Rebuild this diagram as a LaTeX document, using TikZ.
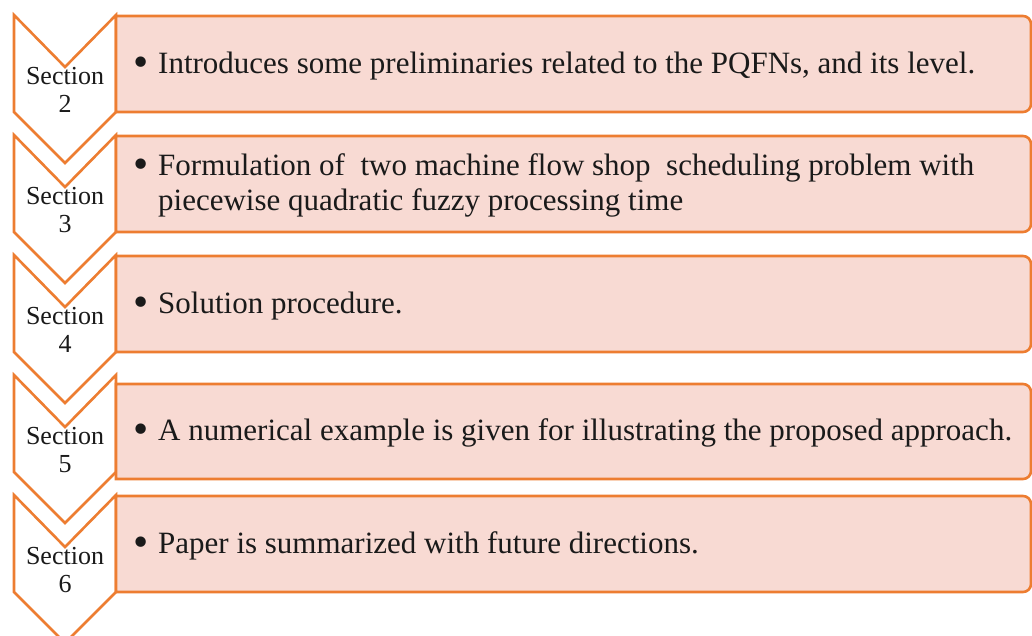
\documentclass[tikz,border=0pt]{standalone}
\usepackage{fontspec}
\setmainfont{Liberation Serif}

\definecolor{chevronline}{HTML}{ED7D31}
\definecolor{boxfill}{HTML}{F8DAD3}
\definecolor{inktext}{HTML}{1A1A1A}

\tikzset{
    sectionlabel/.style={align=center, text=inktext, font=\fontsize{26}{28}\selectfont, inner sep=0pt},
    sectiontext/.style={anchor=west, text=inktext, font=\fontsize{31}{35}\selectfont, inner sep=0pt},
    outline/.style={draw=chevronline, line width=2.6pt, line join=miter}
}

\newcommand{\bulletitem}[1]{\makebox[25pt][l]{\raisebox{-3pt}{\scalebox{1.4}{\textbullet}}}\parbox[t]{870pt}{\raggedright #1}}

\begin{document}
\begin{tikzpicture}[x=1pt, y=-1pt]

    \useasboundingbox (0,0) rectangle (1032,636);

    \foreach \n/\t/\bt/\bb in {2/15/16/112, 3/135/136/232, 4/255/256/352, 5/375/384/479, 6/495/496/592} {
        \draw [outline, fill=white] (14,\t) -- (65,\t+52) -- (116,\t) -- (116,\t+97)
            -- (65,\t+148) -- (14,\t+97) -- cycle;
        \draw [outline, fill=boxfill] (116,\bb) -- (116,\bt) [rounded corners=8pt]
            -- (1031,\bt) -- (1031,\bb) [sharp corners] -- cycle;
        \node [sectionlabel] (sec\n) at (65,\t+75) {Section\\\n};
    }

    \node [sectiontext] (text2) at (133,66) {\bulletitem{Introduces some preliminaries related to the PQFNs, and its level.}};
    \node [sectiontext] (text3) at (133,185) {\bulletitem{Formulation of\ \ two machine flow shop\ \ scheduling problem with\\piecewise quadratic fuzzy processing time}};
    \node [sectiontext] (text4) at (133,306) {\bulletitem{Solution procedure.}};
    \node [sectiontext] (text5) at (133,433) {\bulletitem{A numerical example is given for illustrating the proposed approach.}};
    \node [sectiontext] (text6) at (133,546) {\bulletitem{Paper is summarized with future directions.}};

\end{tikzpicture}
\end{document}
